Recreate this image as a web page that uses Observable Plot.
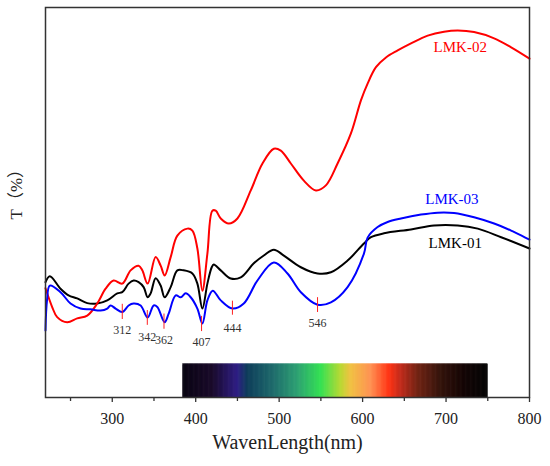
<!DOCTYPE html>
<html>
<head>
<meta charset="utf-8">
<script src="https://cdn.jsdelivr.net/npm/d3@7"></script>
<script src="https://cdn.jsdelivr.net/npm/@observablehq/plot@0.6"></script>
<style>
  body { margin: 0; background: #fff; }
</style>
</head>
<body>
<div id="chart"></div>
<script>
// ---- data (wavelength nm, transmittance in arbitrary %) ----
const wl01 = [220,225.2,238,247.6,258,270,282,294,306,312,319.6,325.6,331.6,337.6,342.4,346,352,358,362.8,370,378,385.6,396,402,408,414,419.2,421.6,430,442,454,469.6,481.6,493.6,505.6,526,546,562,582,601.6,610,625.6,658,685.6,714,738,766,800];
const t01  = [29.6,31.1,27.9,26.2,25.4,24.2,24.1,24.9,26.7,27.0,29.2,30.0,29.6,28.3,25.7,26.7,30.6,28.7,25.7,28.3,32.6,32.6,31.8,29.2,22.8,29.2,33.4,34.1,32.6,30.5,30.8,34.4,36.4,37.9,36.4,33.4,31.8,32.1,35.1,39.5,41.1,42.1,43.1,44.1,44.1,43.3,41.1,38.2];

const wl02 = [220,228,234,246,258,270,282,292,301.6,312,322,331.6,336,342.4,352,358,362.8,370,378,390,396,402,408,414,420,424,430,439.6,450,466,480,493.6,502,514,529.6,544,556,570,586,598,606,616,628,642,658,678,697.6,714,733.6,757.6,778,800];
const t02  = [28.0,23.2,20.6,19.3,20.3,21.0,24.1,27.9,30.0,29.2,32.6,33.8,32.6,29.2,36.0,33.8,31.3,36.0,41.5,43.3,42.8,38.2,27.4,36.9,47.9,47.9,45.9,44.6,45.9,53.1,60.0,63.8,63.3,60.0,55.6,53.1,54.4,60.0,67.7,76.2,80.5,84.7,87.2,89.0,90.8,92.8,93.8,94.1,93.7,92.1,89.8,86.9];

const wl03 = [220,221.8,225.2,238,250,262,274,286,294,298,304,312,319.6,325.6,334,342.4,349.6,354,362.8,367.6,376,382,388,394,402,408,414,420.4,430,444,457.6,474,493.6,510,526,546,562,582,601.6,606,618,630,646,670,690,709.6,733.6,757.6,778,800];
const t03  = [17.2,24.9,28.7,27.0,24.1,22.8,22.6,22.3,22.8,23.6,22.8,21.9,23.6,24.1,23.6,20.5,23.6,23.2,19.3,21.5,26.2,25.7,26.7,25.7,22.8,19.0,24.9,27.4,24.9,22.8,24.1,30.0,34.6,31.8,27.0,23.8,24.4,28.3,36.9,41.0,43.7,45.0,45.9,46.9,47.4,47.3,46.2,44.6,42.8,40.5];

const seriesNames = ["LMK-01", "LMK-02", "LMK-03"];
const seriesColors = ["#000000", "#ff0000", "#0000ff"];
const labelWl = [711, 717, 707];
const labelT  = [39.5, 89.7, 50.8];

// absorption peaks marked on LMK-03
const peakWl     = [312, 342, 362, 407, 444, 546];
const peakTop    = [23.9, 22.3, 21.4, 20.8, 24.7, 25.6];
const peakBottom = [20.0, 18.5, 17.5, 16.9, 21.1, 21.8];
const peakLabelT = [17.2, 15.6, 14.6, 14.1, 17.9, 19.0];

// visible spectrum colour bar
const spectrumStart = 385, spectrumEnd = 750, spectrumTop = 8.5;
const spectrumStops  = [385,420,450,462,494,522,550,574,586,610,632,646,666,694,722,750];
const spectrumColors = ["#05000f","#160627","#2b1a82","#0b3a58","#1b6a6a","#2aa070","#30e050","#b8d830","#f0c040","#ff9050","#ff3010","#c02818","#702010","#301008","#100000","#000000"];

const xTicks = [300, 400, 500, 600, 700, 800];
const xMinorTicks = [250, 350, 450, 550, 650, 750];
const xLabel = "WavenLength(nm)";
const yLabel = "T（%）";

// ---- build tables ----
const rows = [];
[[wl01, t01], [wl02, t02], [wl03, t03]].forEach(([w, t], k) => {
  w.forEach((x, i) => rows.push({series: seriesNames[k], wl: x, t: t[i]}));
});
const labels = seriesNames.map((s, k) => ({s, wl: labelWl[k], t: labelT[k], c: seriesColors[k]}));
const peaks = peakWl.map((w, i) => ({w, top: peakTop[i], bottom: peakBottom[i], lt: peakLabelT[i]}));
const spectrum = d3.range(spectrumStart, spectrumEnd, 1).map(w => ({w, w2: Math.min(w + 1, spectrumEnd)}));

const serif = "'Liberation Serif', 'Times New Roman', 'Noto Sans CJK SC', serif";

const chart = Plot.plot({
  width: 550,
  height: 466,
  marginLeft: 45,
  marginRight: 21,
  marginTop: 7,
  marginBottom: 69,
  style: {fontFamily: serif, fontSize: "16px", background: "#fff", color: "#222"},
  x: {domain: [220, 800]},
  y: {domain: [0, 100], axis: null},
  color: {type: "linear", domain: spectrumStops, range: spectrumColors, interpolate: "rgb"},
  marks: [
    Plot.rect(spectrum, {x1: "w", x2: "w2", y1: 0, y2: spectrumTop, fill: "w", stroke: "w", strokeWidth: 0.6}),
    Plot.line(rows, {x: "wl", y: "t", z: "series", stroke: d => seriesColors[seriesNames.indexOf(d.series)], strokeWidth: 2, curve: "catmull-rom"}),
    Plot.ruleX(peaks, {x: "w", y1: "bottom", y2: "top", stroke: "#ff2020", strokeWidth: 1}),
    Plot.text(peaks, {x: "w", y: "lt", text: d => String(d.w), fontSize: 12, fill: "#333"}),
    Plot.text(labels, {x: "wl", y: "t", text: "s", fill: "c", fontSize: 15}),
    Plot.axisX({ticks: xMinorTicks, tickSize: 4, text: null, stroke: "#333", strokeWidth: 1.3}),
    Plot.axisX({ticks: xTicks, tickSize: 5, tickPadding: 10, fontSize: 16, stroke: "#333", strokeWidth: 1.3, fill: "#222", label: null}),
    Plot.text([xLabel], {frameAnchor: "bottom", lineAnchor: "middle", dy: 45, fontSize: 20, fill: "#222"}),
    Plot.text([yLabel], {frameAnchor: "left", lineAnchor: "middle", dx: -29, dy: 17, rotate: -90, fontSize: 17, fill: "#222", fontFamily: "'Liberation Serif', 'Noto Sans CJK SC', serif"}),
    Plot.frame({stroke: "#333", strokeWidth: 1.5})
  ]
});
document.getElementById("chart").appendChild(chart);
</script>
</body>
</html>
